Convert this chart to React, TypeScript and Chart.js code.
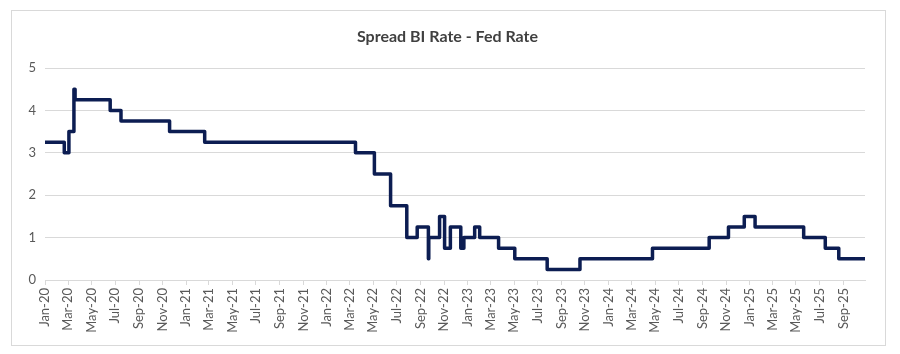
import React, { useEffect, useRef } from "react";
import { Chart, registerables } from "chart.js";

Chart.register(...registerables);

// Dates on which the spread (BI Rate - Fed Rate, % pts) changed, and the new value.
const changeDates = [
  "2020-01-01", "2020-02-20", "2020-03-03", "2020-03-16", "2020-03-19",
  "2020-06-18", "2020-07-16", "2020-11-19", "2021-02-18", "2022-03-16",
  "2022-05-04", "2022-06-15", "2022-07-27", "2022-08-23", "2022-09-21",
  "2022-09-22", "2022-10-20", "2022-11-02", "2022-11-17", "2022-12-14",
  "2022-12-22", "2023-01-19", "2023-02-01", "2023-03-22", "2023-05-03",
  "2023-07-26", "2023-10-19", "2024-04-24", "2024-09-18", "2024-11-07",
  "2024-12-18", "2025-01-15", "2025-05-21", "2025-07-16", "2025-08-20",
  "2025-10-27",
];
const spreadValues = [
  3.25, 3.0, 3.5, 4.5, 4.25,
  4.0, 3.75, 3.5, 3.25, 3.0,
  2.5, 1.75, 1.0, 1.25, 0.5,
  1.0, 1.5, 0.75, 1.25, 0.75,
  1.0, 1.25, 1.0, 0.75, 0.5,
  0.25, 0.5, 0.75, 1.0, 1.25,
  1.5, 1.25, 1.0, 0.75, 0.5,
  0.5,
];
const tickLabels = [
  "Jan-20", "Mar-20", "May-20", "Jul-20", "Sep-20", "Nov-20",
  "Jan-21", "Mar-21", "May-21", "Jul-21", "Sep-21", "Nov-21",
  "Jan-22", "Mar-22", "May-22", "Jul-22", "Sep-22", "Nov-22",
  "Jan-23", "Mar-23", "May-23", "Jul-23", "Sep-23", "Nov-23",
  "Jan-24", "Mar-24", "May-24", "Jul-24", "Sep-24", "Nov-24",
  "Jan-25", "Mar-25", "May-25", "Jul-25", "Sep-25",
];
const yMin = 0;
const yMax = 5;
const yStep = 1;
const chartTitle = "Spread BI Rate - Fed Rate";

const MONTHS = ["Jan", "Feb", "Mar", "Apr", "May", "Jun", "Jul", "Aug", "Sep", "Oct", "Nov", "Dec"];
const DAY = 86400000;
const BASE = Date.UTC(2020, 0, 1);

function dayIndex(iso: string): number {
  const [y, m, d] = iso.split("-").map(Number);
  return (Date.UTC(y, m - 1, d) - BASE) / DAY;
}
function labelDay(label: string): number {
  const [mon, yy] = label.split("-");
  return (Date.UTC(2000 + Number(yy), MONTHS.indexOf(mon), 1) - BASE) / DAY;
}

const FONT = "Lato, 'Open Sans', 'Noto Sans', sans-serif";

const framePlugin = {
  id: "frame",
  afterLayout(chart: any) {
    // centre the title on the whole framed chart rather than the padded box
    if (chart.titleBlock) chart.titleBlock.left = 30;
  },
  beforeDraw(chart: any) {
    const { ctx, width, height } = chart;
    ctx.save();
    ctx.fillStyle = "#ffffff";
    ctx.fillRect(0, 0, width, height);
    ctx.strokeStyle = "#d9d9d9";
    ctx.lineWidth = 1;
    ctx.strokeRect(11.5, 10.5, 874, 335);
    ctx.restore();
  },
};

export default function App() {
  const ref = useRef<HTMLCanvasElement | null>(null);

  useEffect(() => {
    if (!ref.current) return;
    const points = changeDates.map((d, i) => ({ x: dayIndex(d), y: spreadValues[i] }));
    const tickValues = tickLabels.map(labelDay);
    const chart = new Chart(ref.current, {
      type: "line",
      data: {
        datasets: [
          {
            label: "Spread",
            data: points,
            stepped: "before",
            borderColor: "#0c1d52",
            borderWidth: 3.5,
            borderJoinStyle: "round",
            borderCapStyle: "round",
            pointRadius: 0,
            fill: false,
          },
        ],
      },
      options: {
        animation: false,
        responsive: false,
        devicePixelRatio: 1,
        layout: { padding: { left: 0, right: 35, top: 0, bottom: 0 } },
        plugins: {
          legend: { display: false },
          tooltip: { enabled: false },
          title: {
            display: true,
            text: chartTitle,
            color: "#404040",
            font: { family: FONT, size: 16, weight: "bold" },
            padding: { top: 27.5, bottom: 21.3 },
          },
        },
        scales: {
          x: {
            type: "linear",
            min: points[0].x,
            max: points[points.length - 1].x,
            afterBuildTicks: (scale: any) => {
              scale.ticks = tickValues.map((v) => ({ value: v }));
            },
            afterFit: (scale: any) => {
              scale.height = 74;
            },
            ticks: {
              autoSkip: false,
              minRotation: 90,
              maxRotation: 90,
              padding: 3,
              color: "#595959",
              font: { family: FONT, size: 13 },
              callback: (_v: any, i: number) => tickLabels[i],
            },
            grid: {
              drawOnChartArea: false,
              drawTicks: true,
              tickLength: 5,
              color: "#d9d9d9",
            },
            border: { display: true, color: "#d9d9d9" },
          },
          y: {
            min: yMin,
            max: yMax,
            afterFit: (scale: any) => {
              scale.width = 45;
            },
            ticks: {
              stepSize: yStep,
              padding: 9,
              color: "#595959",
              font: { family: FONT, size: 13 },
            },
            grid: { color: "#d9d9d9", drawTicks: false },
            border: { display: false },
          },
        },
      },
      plugins: [framePlugin],
    } as any);
    return () => chart.destroy();
  }, []);

  return (
    <div style={{ position: "fixed", left: 0, top: 0, width: 900, height: 354, background: "#fff" }}>
      <canvas ref={ref} width={900} height={354} style={{ display: "block", width: 900, height: 354 }} />
    </div>
  );
}
